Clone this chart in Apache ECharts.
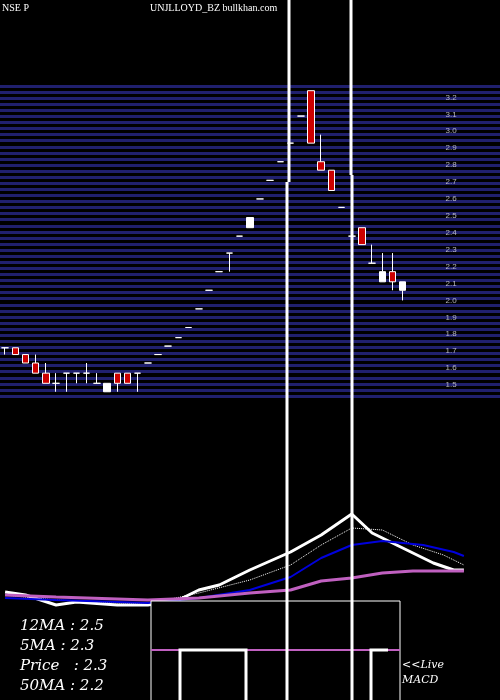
<!DOCTYPE html><html><head><meta charset="utf-8">
<script src="https://cdn.jsdelivr.net/npm/echarts@6/dist/echarts.min.js"></script>
<style>html,body{margin:0;background:#000}#c{width:500px;height:700px}</style></head><body><div id="c"></div>
<script>
// candles: [open, close, low, high]
const candles = [
[1.72,1.72,1.68,1.72],[1.72,1.68,1.68,1.72],[1.68,1.63,1.63,1.68],[1.63,1.57,1.57,1.68],[1.57,1.51,1.51,1.63],
[1.51,1.51,1.46,1.57],[1.57,1.57,1.46,1.57],[1.57,1.57,1.51,1.57],[1.57,1.57,1.51,1.63],[1.51,1.51,1.51,1.57],
[1.46,1.51,1.46,1.51],[1.57,1.51,1.46,1.57],[1.57,1.51,1.51,1.57],[1.57,1.57,1.46,1.57],[1.63,1.63,1.63,1.63],
[1.68,1.68,1.68,1.68],[1.73,1.73,1.73,1.73],[1.78,1.78,1.78,1.78],[1.84,1.84,1.84,1.84],[1.95,1.95,1.95,1.95],
[2.06,2.06,2.06,2.06],[2.17,2.17,2.17,2.17],[2.28,2.28,2.17,2.28],[2.38,2.38,2.38,2.38],[2.43,2.49,2.43,2.49],
[2.60,2.60,2.60,2.60],[2.71,2.71,2.71,2.71],[2.82,2.82,2.82,2.82],[2.93,2.93,2.93,2.93],[3.09,3.09,3.09,3.09],
[3.24,2.93,2.93,3.24],[2.82,2.77,2.77,2.98],[2.77,2.65,2.65,2.77],[2.55,2.55,2.55,2.55],[2.38,2.38,2.38,2.60],
[2.43,2.33,2.33,2.43],[2.22,2.22,2.22,2.33],[2.11,2.17,2.11,2.28],[2.17,2.11,2.06,2.28],[2.06,2.11,2.00,2.11]
];
const categories = Array.from({length:46},(_,i)=>String(i+1));
const priceTicks = [1.5,1.6,1.7,1.8,1.9,2.0,2.1,2.2,2.3,2.4,2.5,2.6,2.7,2.8,2.9,3.0,3.1,3.2,3.3];
// lower panel (relative units)
const n=null;
const ma5 = [28,n,25,n,n,15,n,18,n,n,n,15,n,n,15,n,n,20,n,30,n,35,n,n,50,n,n,n,68,n,n,85,n,n,106,n,87,n,n,72,n,n,57,n,50,50];
const ma12= [25,n,n,n,n,20,n,n,n,n,n,17,n,n,16,n,n,n,n,27,n,n,n,n,40,n,n,n,55,n,n,75,n,n,92,n,n,90,n,n,75,n,n,65,n,55];
const ma20= [22,n,n,n,n,20,n,n,n,n,n,n,n,n,17,n,n,n,n,22,n,n,n,n,30,n,n,n,43,n,n,62,n,n,75,n,n,79,n,n,n,75,n,n,68,64];
const ma50= [25,n,n,n,n,23,n,n,n,n,n,n,n,n,20,n,n,n,n,22,n,n,n,n,27,n,n,n,30,n,n,39,n,n,42,n,n,47,n,n,49,n,n,49,n,49];
const ch = echarts.init(document.getElementById('c'));
ch.setOption({
 backgroundColor:'#000', animation:false,
 grid:[{left:-3,right:31,top:89,height:296},{left:-3,right:31,top:500,height:120},{left:0,right:0,top:86,height:310}],
 xAxis:[{type:'category',data:categories,gridIndex:0,show:false},
        {type:'category',data:categories,gridIndex:1,show:false},
        {type:'value',gridIndex:2,show:false}],
 yAxis:[{type:'value',gridIndex:0,min:1.5,max:3.25,splitLine:{show:false},axisLine:{show:false},axisTick:{show:false},axisLabel:{show:false}},
        {type:'value',gridIndex:1,min:0,max:120,show:false},
        {type:'value',gridIndex:2,min:0,max:51,interval:1,splitLine:{lineStyle:{color:'#20206e',width:3}},axisLine:{show:false},axisTick:{show:false},axisLabel:{show:false}}],
 series:[
  {type:'line',xAxisIndex:2,yAxisIndex:2,data:[],silent:true},
  {type:'scatter',xAxisIndex:0,yAxisIndex:0,data:priceTicks.map(v=>[String(44),v]),symbolSize:0,z:1,
   label:{show:true,position:'right',distance:2,formatter:p=>p.value[1].toFixed(1),color:'#ddd',fontSize:8}},
  {type:'candlestick',xAxisIndex:0,yAxisIndex:0,data:candles,barWidth:7,z:5,
   itemStyle:{color:'#fff',color0:'#cc0000',borderColor:'#fff',borderColor0:'#fff',borderWidth:1}},
  {type:'line',xAxisIndex:1,yAxisIndex:1,data:ma5,connectNulls:true,symbol:'none',lineStyle:{color:'#fff',width:3}},
  {type:'line',xAxisIndex:1,yAxisIndex:1,data:ma12,connectNulls:true,symbol:'none',lineStyle:{color:'#fff',width:1,type:'dotted'}},
  {type:'line',xAxisIndex:1,yAxisIndex:1,data:ma20,connectNulls:true,symbol:'none',lineStyle:{color:'#0000dd',width:2}},
  {type:'line',xAxisIndex:1,yAxisIndex:1,data:ma50,connectNulls:true,symbol:'none',lineStyle:{color:'#c060c0',width:3}}
 ],
 graphic:[
  {type:'text',left:2,top:3,style:{text:'NSE P',fill:'#fff',font:'10px serif'}},
  {type:'text',left:150,top:3,style:{text:'UNJLLOYD_BZ bullkhan.com',fill:'#fff',font:'10px serif'}},
  {type:'line',shape:{x1:289,y1:0,x2:289,y2:182},style:{stroke:'#fff',lineWidth:3},z:20},
  {type:'line',shape:{x1:287,y1:182,x2:287,y2:700},style:{stroke:'#fff',lineWidth:3},z:20},
  {type:'line',shape:{x1:351,y1:0,x2:351,y2:175},style:{stroke:'#fff',lineWidth:3},z:20},
  {type:'line',shape:{x1:352,y1:175,x2:352,y2:700},style:{stroke:'#fff',lineWidth:3},z:20},
  {type:'rect',shape:{x:151,y:601,width:249,height:100},style:{fill:'#000',stroke:'#fff',lineWidth:1},z:5},
  {type:'line',shape:{x1:151,y1:650,x2:400,y2:650},style:{stroke:'#c060c0',lineWidth:2},z:6},
  {type:'polyline',shape:{points:[[180,700],[180,650],[246,650],[246,700]]},style:{stroke:'#fff',lineWidth:3,fill:null},z:7},
  {type:'polyline',shape:{points:[[371,700],[371,650],[388,650]]},style:{stroke:'#fff',lineWidth:3,fill:null},z:7},
  {type:'text',left:20,top:616,style:{text:'12MA : 2.5\n5MA : 2.3\nPrice   : 2.3\n50MA : 2.2',fill:'#fff',font:'italic 15px "DejaVu Serif", serif',lineHeight:20},z:11},
  {type:'text',left:402,top:658,style:{text:'<<Live\nMACD',fill:'#fff',font:'italic 11px "DejaVu Serif", serif',lineHeight:15},z:11}
 ]
});
</script></body></html>
